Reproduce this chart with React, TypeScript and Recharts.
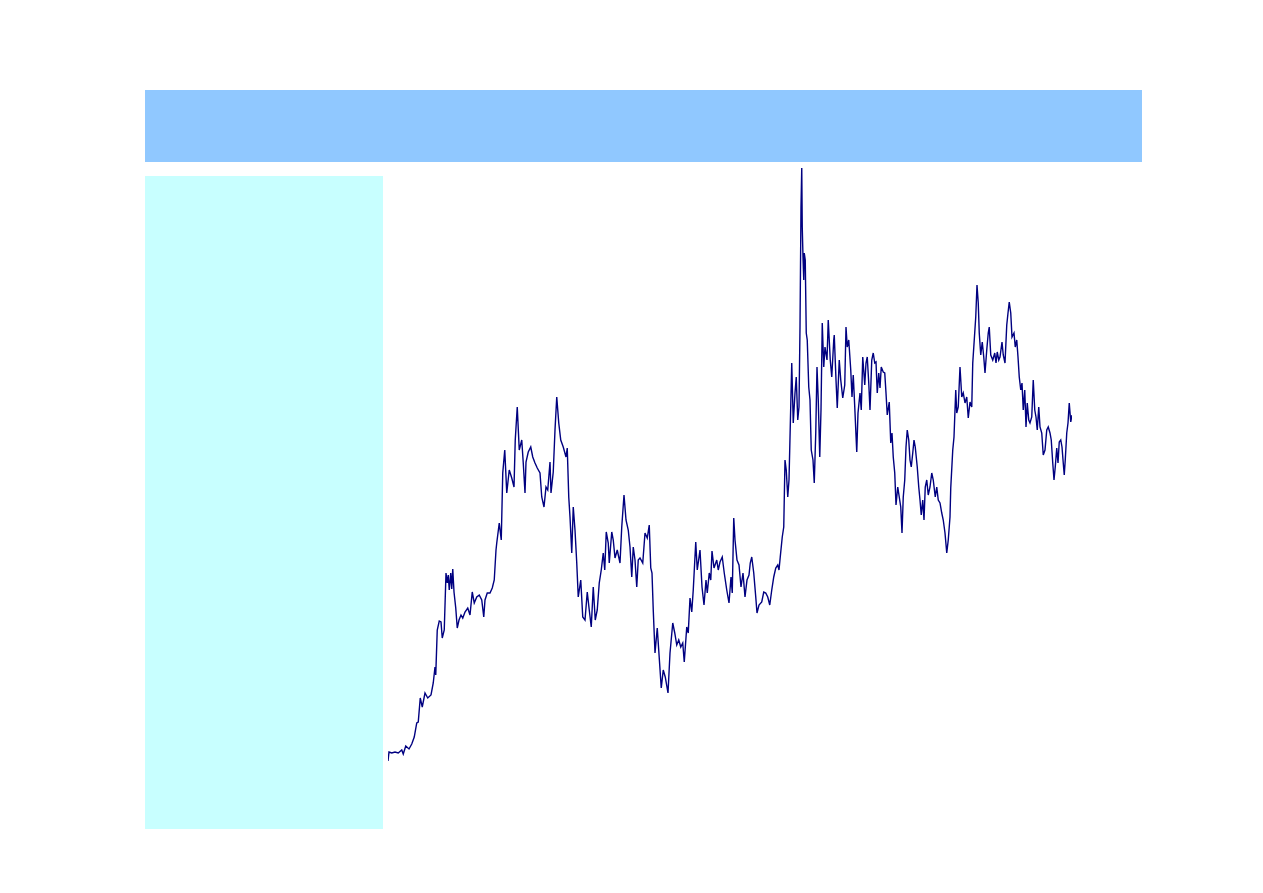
import { LineChart, Line, XAxis, YAxis } from 'recharts'

// trading day index (from first bar)
const days = [
  0, 4, 15, 28, 41, 55, 61, 71, 84, 95, 105, 115, 121, 129, 137, 148, 159, 172, 181, 188,
  191, 197, 205, 212, 217, 225, 232, 237, 241, 245, 251, 255, 259, 264, 271, 277, 284, 292, 299, 308,
  319, 328, 337, 345, 355, 365, 375, 383, 388, 397, 408, 417, 425, 432,
  435, 445, 453, 459, 467, 475, 485, 495, 504, 509, 517, 525, 535, 541, 548, 552, 561, 571, 579, 588,
  597, 608, 615, 624, 632, 639, 648, 652, 661, 668, 675, 683, 691, 701, 712, 717, 723, 728, 735, 741,
  748, 755, 761, 771, 779, 788, 797, 805, 813, 821, 829, 837, 845, 853, 861, 867, 873, 881, 885,
  895, 901, 908, 917, 928, 935, 944, 952, 961, 968, 975, 981, 988, 995, 1001, 1008, 1019, 1028, 1037, 1045,
  1051, 1056, 1061, 1068, 1077, 1085, 1093, 1101, 1109, 1120, 1128, 1139, 1147, 1155, 1163, 1171, 1179, 1185, 1195, 1201,
  1208, 1215, 1221, 1231, 1237, 1248, 1256, 1264, 1272, 1277, 1285, 1291, 1296, 1304, 1315, 1321, 1328,
  1337, 1345, 1355, 1364, 1372, 1377, 1383, 1388, 1396, 1404, 1412, 1420, 1428, 1436, 1444, 1449, 1455, 1463, 1471, 1476,
  1484, 1495, 1503, 1511, 1519, 1527, 1535, 1543, 1551, 1559, 1564, 1569, 1577, 1583, 1588, 1593, 1599, 1604, 1609, 1615,
  1621, 1628, 1633, 1639, 1644, 1648, 1652, 1655, 1657, 1660, 1663, 1665, 1669, 1673, 1677, 1683, 1688, 1693, 1700, 1705,
  1711, 1716, 1721, 1727, 1732, 1737, 1743, 1748, 1756, 1761, 1769, 1775, 1783,
  1785, 1792, 1797, 1805, 1811, 1819, 1827, 1832, 1837, 1843, 1851, 1856, 1861, 1867, 1875, 1880, 1888, 1893, 1899, 1907,
  1912, 1917, 1923, 1928, 1935, 1941, 1947, 1952, 1957, 1963, 1968, 1973, 1981, 1987, 1992, 1997, 2005, 2011, 2016, 2021,
  2027, 2032, 2039, 2045, 2051, 2056, 2061, 2067, 2072, 2077, 2083, 2088, 2093, 2099, 2104, 2109, 2117, 2123, 2128, 2133,
  2139, 2144, 2149, 2155, 2161, 2168, 2175, 2181, 2189, 2195, 2201, 2208, 2215, 2221, 2228, 2235, 2241, 2248,
  2251, 2259, 2264, 2271, 2275, 2281, 2288, 2295, 2301, 2308, 2315, 2321, 2328, 2335, 2339, 2345, 2351, 2356, 2361, 2365,
  2371, 2377, 2383, 2388, 2395, 2401, 2405, 2411, 2419, 2427, 2432, 2437, 2443, 2448, 2456, 2461, 2468, 2475, 2480, 2485,
  2491, 2496, 2504, 2509, 2515, 2520, 2525, 2531, 2536, 2541, 2547, 2552, 2557, 2563, 2568, 2575, 2581, 2587, 2592, 2597,
  2603, 2608, 2615, 2621, 2628, 2635, 2641, 2648, 2653, 2659, 2664, 2669, 2675, 2680, 2685, 2691, 2696, 2701, 2705, 2709,
  2715, 2720, 2725, 2731, 2736,
]

const prices = [
  19, 28, 27, 28, 27, 30, 26, 34, 31, 36, 43, 57, 58, 82, 73, 87, 82, 85, 97, 113,
  105, 150, 159, 158, 142, 150, 207, 197, 205, 190, 207, 191, 211, 188, 172, 152, 160, 165, 162, 168,
  172, 165, 188, 177, 183, 185, 180, 163, 180, 187, 187, 192, 200, 230,
  237, 257, 240, 307, 330, 287, 310, 302, 293, 340, 373, 330, 340, 317, 287, 318, 328, 333, 323, 317,
  312, 307, 283, 273, 293, 290, 318, 287, 308, 350, 383, 357, 340, 333, 323, 332, 283, 263, 227, 273,
  250, 217, 183, 200, 163, 160, 188, 170, 153, 193, 160, 170, 197, 210, 227, 210, 248, 237, 217,
  248, 240, 222, 230, 217, 253, 285, 260, 250, 233, 203, 233, 220, 193, 220, 222, 217, 247, 242, 255,
  212, 207, 170, 127, 152, 122, 92, 110, 103, 87, 127, 157, 147, 135, 140, 133, 137, 118, 153, 147,
  182, 168, 190, 238, 210, 230, 193, 175, 200, 187, 207, 200, 229, 212, 220, 210, 218,
  223, 207, 190, 177, 203, 187, 262, 240, 220, 215, 193, 207, 183, 200, 205, 217, 223, 207, 183, 167,
  175, 178, 188, 187, 183, 175, 190, 203, 212, 215, 210, 223, 243, 253, 320, 310, 283, 300, 353, 417,
  357, 387, 403, 360, 373, 453, 573, 612, 553, 523, 500, 527, 520, 447, 440, 393, 380, 330, 320, 297,
  347, 413, 380, 323, 370, 457, 413, 433, 420, 460, 420, 403, 440,
  445, 400, 372, 420, 400, 382, 395, 453, 433, 440, 410, 383, 405, 373, 328, 367, 387, 370, 423, 395,
  417, 423, 397, 370, 420, 427, 417, 418, 387, 407, 392, 413, 408, 407, 387, 365, 378, 337, 347, 323,
  307, 275, 293, 283, 273, 247, 283, 300, 333, 350, 340, 320, 313, 327, 340, 333, 313, 293, 280, 265,
  280, 260, 293, 300, 285, 293, 307, 300, 283, 293, 280, 277, 267, 260, 247, 227, 240, 263,
  292, 330, 343, 390, 367, 373, 413, 383, 387, 377, 383, 362, 378, 373, 417, 440, 463, 495, 477, 447,
  425, 438, 423, 407, 430, 447, 453, 425, 420, 427, 417, 428, 420, 423, 438, 425, 417, 455, 467, 478,
  467, 443, 447, 433, 440, 423, 403, 390, 397, 370, 390, 353, 377, 360, 357, 363, 400, 370, 363, 350,
  373, 353, 347, 325, 330, 350, 353, 347, 340, 317, 300, 313, 332, 317, 338, 340, 333, 317, 305, 320,
  347, 357, 377, 358, 365,
]

const data = days.map((d, i) => ({ day: d, price: prices[i] }))

export default function App() {
  return (
    <div style={{ position: 'fixed', left: 0, top: 0, width: 1263, height: 893, background: '#ffffff' }}>
      <div style={{ position: 'absolute', left: 145, top: 90, width: 997, height: 72, background: '#90c8ff' }} />
      <div style={{ position: 'absolute', left: 145, top: 176, width: 238, height: 653, background: '#c8ffff' }} />
      <div style={{ position: 'absolute', left: 388, top: 168 }}>
        <LineChart width={684} height={594} data={data} margin={{ top: 0, right: 0, bottom: 0, left: 0 }}>
          <XAxis dataKey="day" type="number" domain={[0, 2736]} hide />
          <YAxis type="number" domain={[18, 612]} hide />
          <Line
            type="linear"
            dataKey="price"
            stroke="#000080"
            strokeWidth={1.4}
            dot={false}
            isAnimationActive={false}
          />
        </LineChart>
      </div>
    </div>
  )
}
